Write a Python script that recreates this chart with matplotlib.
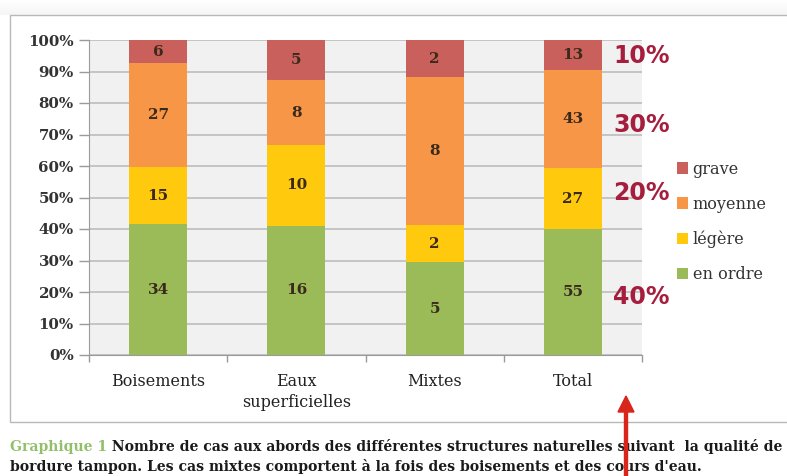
import matplotlib
matplotlib.use("Agg")
import matplotlib.pyplot as plt
import numpy as np
from matplotlib.patches import Rectangle, Patch, FancyArrow

categories = ["Boisements", "Eaux\nsuperficielles", "Mixtes", "Total"]
series_names = ["en ordre", "légère", "moyenne", "grave"]
en_ordre = [34, 16, 5, 55]
legere = [15, 10, 2, 27]
moyenne = [27, 8, 8, 43]
grave = [6, 5, 2, 13]
colors = ["#9bbb59", "#ffc90e", "#f79646", "#c9605c"]
annot_labels = ["40%", "20%", "30%", "10%"]
annot_pos = [18.5, 51.5, 73.0, 95.0]
yticks = [0, 10, 20, 30, 40, 50, 60, 70, 80, 90, 100]
caption_head = "Graphique 1"
caption_line1 = " Nombre de cas aux abords des différentes structures naturelles suivant  la qualité de la"
caption_line2 = "bordure tampon. Les cas mixtes comportent à la fois des boisements et des cours d'eau."

W, H = 787, 476
fig = plt.figure(figsize=(W / 100, H / 100), dpi=100)
fig.patch.set_facecolor("white")

def fx(px):
    return px / W

def fy(py):
    return 1 - py / H

# soft shadow above the chart object
for i in range(10):
    fig.patches.append(Rectangle((0, fy(15 - i * 1.5)), 1, 1.5 / H,
                                 transform=fig.transFigure, facecolor="#000000",
                                 alpha=0.008 * (10 - i) / 2, edgecolor="none", zorder=-3))
# outer frame of the chart object
frame = Rectangle((fx(10), fy(422)), fx(800) - fx(10), fy(15) - fy(422),
                  transform=fig.transFigure, facecolor="white", edgecolor="#b8b8b8",
                  linewidth=1.0, zorder=-2)
fig.patches.append(frame)

ax = fig.add_axes([fx(89), fy(355), fx(642) - fx(89), fy(40) - fy(355)])
ax.set_facecolor("#f1f1f1")

data = np.array([en_ordre, legere, moyenne, grave], dtype=float)
totals = data.sum(axis=0)
pct = data / totals * 100
x = np.arange(len(categories))
bottom = np.zeros(len(categories))
for i, name in enumerate(series_names):
    ax.bar(x, pct[i], 0.42, bottom=bottom, color=colors[i], zorder=3, label=name)
    m = bottom + pct[i] / 2
    for j in range(len(categories)):
        ax.text(x[j], m[j], f"{int(data[i][j])}", ha="center", va="center",
                fontsize=11, fontweight="bold", family="DejaVu Serif", color="#3b2a1c", zorder=4)
    bottom += pct[i]

ax.set_xlim(-0.5, len(categories) - 0.5)
ax.set_ylim(0, 100)
ax.set_yticks(yticks)
ax.set_yticklabels([f"{t}%" for t in yticks], fontsize=10.8, fontweight="bold",
                   family="DejaVu Serif", color="#333333")
ax.yaxis.grid(True, color="#bdbdbd", linewidth=1.2, zorder=1)
ax.set_axisbelow(True)
ax.set_xticks(np.arange(-0.5, len(categories), 1.0))
ax.set_xticklabels([])
ax.tick_params(axis="x", length=5, color="#9a9a9a", width=1)
ax.tick_params(axis="y", length=7, color="#9a9a9a", width=1, pad=4)
for s in ["top", "right"]:
    ax.spines[s].set_visible(False)
ax.spines["left"].set_color("#9a9a9a")
ax.spines["bottom"].set_color("#9a9a9a")

for j, c in enumerate(categories):
    ax.text(x[j], -5.8, c, ha="center", va="top", fontsize=11.5, family="DejaVu Serif",
            color="#222222", linespacing=1.3, transform=ax.transData)

# red percentage annotations next to the Total bar
for lab, yv in zip(annot_labels, annot_pos):
    ax.text(3.29, yv, lab, ha="left", va="center", fontsize=17, fontweight="bold",
            family="DejaVu Sans", color="#a61e3e", zorder=5, clip_on=False)

handles = [Patch(facecolor=colors[i], edgecolor="none", label=series_names[i]) for i in range(3, -1, -1)]
leg = fig.legend(handles=handles, loc="upper left", bbox_to_anchor=(fx(662), fy(146)),
                 frameon=False, handlelength=0.7, handleheight=0.7, handletextpad=0.3,
                 labelspacing=1.12, prop={"family": "DejaVu Serif", "size": 11.6})
for t in leg.get_texts():
    t.set_color("#333333")

# caption
cap_fs = 10.1
t1 = fig.text(fx(10), fy(447), caption_head, ha="left", va="center", fontsize=cap_fs,
              fontweight="bold", family="DejaVu Serif", color="#92c06a")
fig.canvas.draw()
bb = t1.get_window_extent()
fig.text(bb.x1 / W, fy(447), caption_line1, ha="left", va="center", fontsize=cap_fs,
         fontweight="bold", family="DejaVu Serif", color="#1a1a1a")
fig.text(fx(10), fy(466), caption_line2, ha="left", va="center", fontsize=cap_fs,
         fontweight="bold", family="DejaVu Serif", color="#1a1a1a")

# red arrow
fig.patches.append(FancyArrow(fx(626), fy(480), 0, fy(396) - fy(480), width=fx(3),
                              head_width=fx(16), head_length=(fy(396) - fy(412)),
                              length_includes_head=True, transform=fig.transFigure,
                              color="#d8261c", zorder=10))

fig.savefig("out.png", dpi=100)
